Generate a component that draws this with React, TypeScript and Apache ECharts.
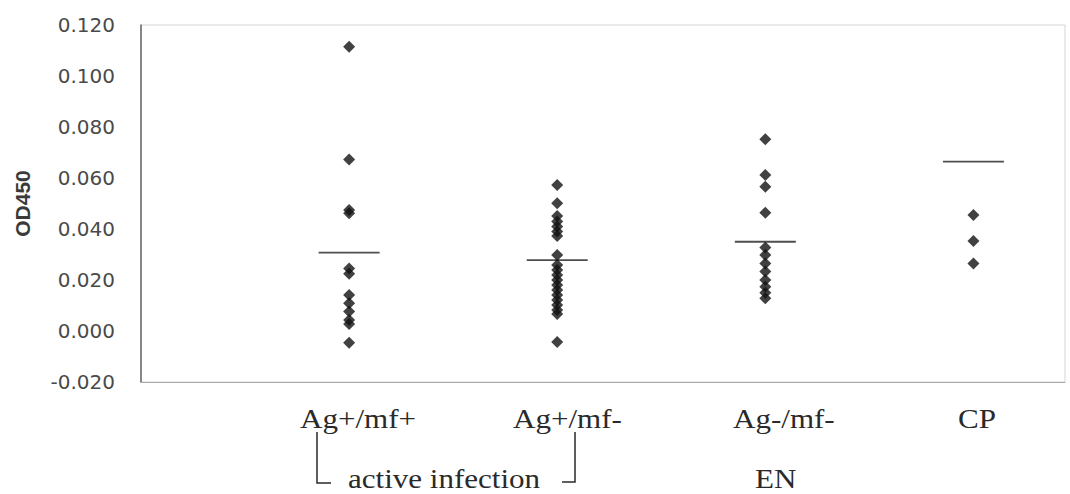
import React, { useEffect, useRef } from "react";
import * as echarts from "echarts";

// Group labels
const categories = ["Ag+/mf+", "Ag+/mf-", "Ag-/mf-", "CP"];
// x position of each group on the hidden value x-axis
const groupX = [1, 2, 3, 4];
// OD450 values
const agPosMfPos = [0.1115, 0.0673, 0.0475, 0.0462, 0.0245, 0.0225, 0.0141, 0.0109, 0.0076, 0.0043, 0.0027, -0.0046];
const agPosMfNeg = [0.0573, 0.0501, 0.0451, 0.0429, 0.041, 0.039, 0.0373, 0.0298, 0.0259, 0.0239, 0.022, 0.02, 0.018, 0.0161, 0.0141, 0.0122, 0.0102, 0.0082, 0.0067, -0.0043];
const agNegMfNeg = [0.0752, 0.0612, 0.0566, 0.0464, 0.0327, 0.0298, 0.0265, 0.0233, 0.02, 0.0174, 0.015, 0.0128];
const cp = [0.0455, 0.0353, 0.0265];
// mean bars
const means = [0.0307, 0.0278, 0.035, 0.0664];
// y-axis ticks
const yMin = -0.02;
const yMax = 0.12;
const yStep = 0.02;

const groups = [agPosMfPos, agPosMfNeg, agNegMfNeg, cp];

export default function App() {
  const ref = useRef<HTMLDivElement>(null);
  useEffect(() => {
    if (!ref.current) return;
    const chart = echarts.init(ref.current, null, { renderer: "svg" });
    const points: number[][] = [];
    groups.forEach((g, i) => g.forEach((v) => points.push([groupX[i], v])));
    const meanPts = means.map((m, i) => [groupX[i], m]);
    const serif = "'Liberation Serif', 'Times New Roman', serif";
    const txtColor = "#2a2a2a";
    const labelStarts = [300, 513, 733, 958];
    chart.setOption({
      animation: false,
      backgroundColor: "#ffffff",
      grid: {
        left: 141,
        top: 25,
        width: 924,
        height: 357,
        show: true,
        borderColor: "#d6d6d6",
        borderWidth: 1,
      },
      xAxis: {
        type: "value",
        min: 0,
        max: 4.44,
        axisLine: { show: true, onZero: false, lineStyle: { color: "#a8a8a8", width: 1 } },
        axisTick: { show: false },
        axisLabel: { show: false },
        splitLine: { show: false },
      },
      yAxis: {
        type: "value",
        min: yMin,
        max: yMax,
        interval: yStep,
        name: "OD450",
        nameLocation: "middle",
        nameRotate: 90,
        nameGap: 108,
        nameTextStyle: {
          fontFamily: "'Liberation Sans', Arial, sans-serif",
          fontSize: 21,
          fontWeight: "bold",
          color: "#3a3a3a",
        },
        axisLine: { show: true, lineStyle: { color: "#666666", width: 1.5 } },
        axisTick: { show: false },
        splitLine: { show: false },
        axisLabel: {
          margin: 26,
          fontFamily: "'DejaVu Sans', sans-serif",
          fontSize: 20,
          color: "#4a4a4a",
          formatter: (v: number) => v.toFixed(3),
        },
      },
      series: [
        {
          type: "scatter",
          data: points,
          symbol: "diamond",
          symbolSize: [12, 12],
          itemStyle: { color: "#111111" },
          z: 3,
        },
        {
          type: "scatter",
          data: meanPts,
          symbol: "rect",
          symbolSize: [61, 1.8],
          itemStyle: { color: "#222222" },
          z: 2,
        },
      ],
      graphic: [
        ...categories.map((c, i) => ({
          type: "text",
          x: labelStarts[i],
          y: 419,
          scaleX: 1.15,
          style: {
            text: c,
            x: 0,
            y: 0,
            fontFamily: serif,
            fontSize: 27,
            fill: txtColor,
            align: "left",
            verticalAlign: "middle",
          },
        })),
        {
          type: "text",
          x: 348,
          y: 479,
          scaleX: 1.15,
          style: {
            text: "active infection",
            x: 0,
            y: 0,
            fontFamily: serif,
            fontSize: 27,
            fill: txtColor,
            align: "left",
            verticalAlign: "middle",
          },
        },
        {
          type: "text",
          x: 755,
          y: 479,
          scaleX: 1.15,
          style: {
            text: "EN",
            x: 0,
            y: 0,
            fontFamily: serif,
            fontSize: 27,
            fill: txtColor,
            align: "left",
            verticalAlign: "middle",
          },
        },
        {
          type: "polyline",
          shape: { points: [[317, 432], [317, 483], [331, 483]] },
          style: { stroke: txtColor, lineWidth: 1.5, fill: null },
        },
        {
          type: "polyline",
          shape: { points: [[562, 482], [575, 482], [575, 432]] },
          style: { stroke: txtColor, lineWidth: 1.5, fill: null },
        },
      ],
    });
    return () => chart.dispose();
  }, []);
  return <div ref={ref} style={{ width: 1070, height: 494, position: "absolute", left: 0, top: 0 }} />;
}
